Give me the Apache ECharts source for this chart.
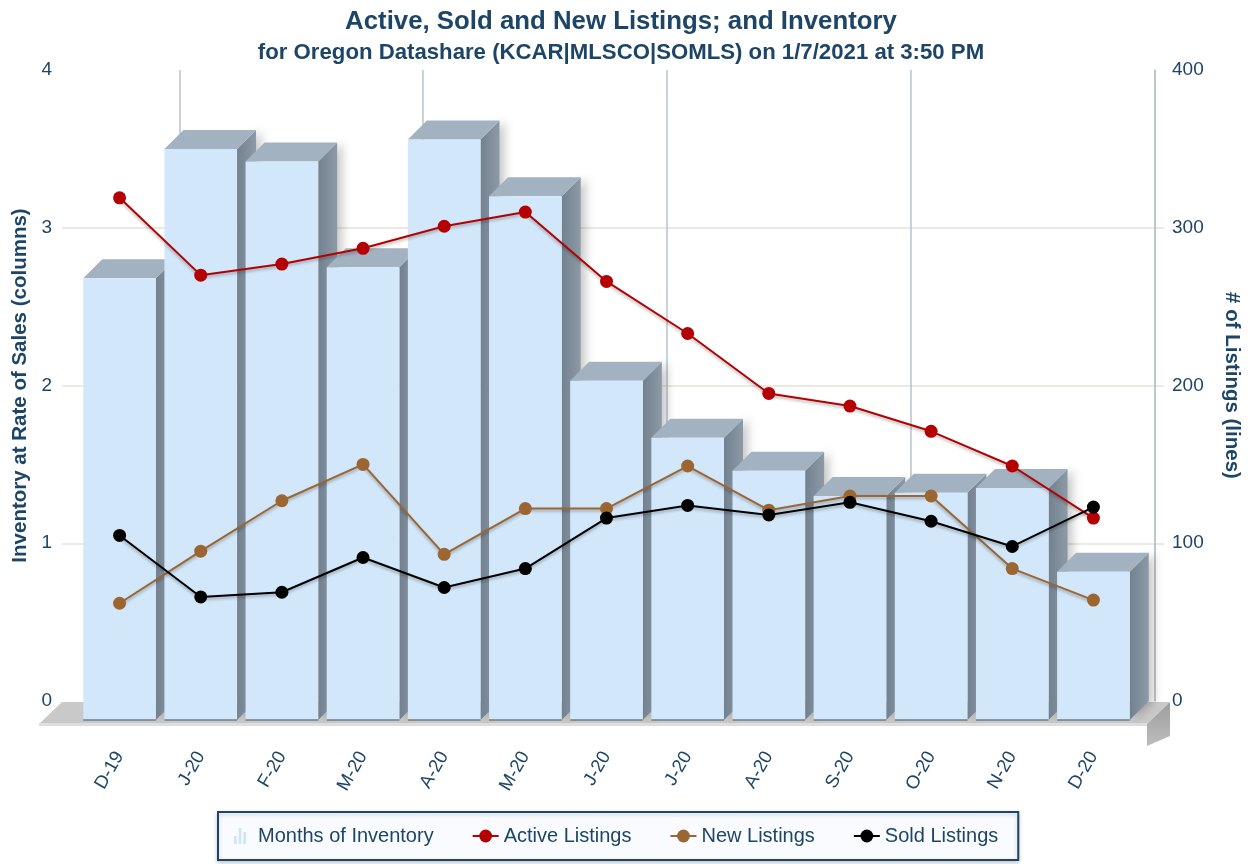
<!DOCTYPE html>
<html style="height: 100%">
<head>
<meta charset="utf-8">
</head>
<body style="height: 100%; margin: 0">
<div id="container" style="width: 1250px; height: 864px"></div>
<script type="text/javascript" src="https://cdn.jsdelivr.net/npm/echarts@6/dist/echarts.min.js"></script>
<script type="text/javascript">
var months = ['D-19', 'J-20', 'F-20', 'M-20', 'A-20', 'M-20', 'J-20', 'J-20', 'A-20', 'S-20', 'O-20', 'N-20', 'D-20'];
// months of inventory (left axis, columns)
var inventory = [2.80, 3.62, 3.54, 2.87, 3.68, 3.32, 2.15, 1.79, 1.58, 1.42, 1.44, 1.47, 0.94];
// listings (right axis, lines)
var active = [331, 282, 289, 299, 313, 322, 278, 245, 207, 199, 183, 161, 128];
var newListings = [74, 107, 139, 162, 105, 134, 134, 161, 133, 142, 142, 96, 76];
var sold = [117, 78, 81, 103, 84, 96, 128, 136, 130, 138, 126, 110, 135];
var leftTicks = [0, 4, 1];    // min, max, step
var rightTicks = [0, 400, 100];

var navy = '#1d4567';
var font = '"Liberation Sans", Arial, sans-serif';
var D = 19; // depth of the 3d effect

var dom = document.getElementById('container');
var myChart = echarts.init(dom);

var barData = inventory.map(function (v, i) { return [i, v]; });

function renderBar(params, api) {
	var i = api.value(0);
	var top = api.coord([i, api.value(1)]);
	var base = api.coord([i, 0]);
	var w = api.size([1, 0])[0] * 0.895;
	var x0 = top[0] - w / 2, x1 = top[0] + w / 2;
	var y0 = top[1], y1 = base[1];
	return {
		type: 'group',
		children: [
			{
				type: 'polygon',
				shape: { points: [[x1, y0], [x1 + D, y0 - D], [x1 + D, y1 - D], [x1, y1]] },
				style: {
					fill: new echarts.graphic.LinearGradient(0, 0, 1, 0, [
						{ offset: 0, color: '#728190' }, { offset: 1, color: '#8d9aa6' }
					]),
					shadowBlur: 10, shadowColor: 'rgba(0,0,0,0.22)', shadowOffsetX: 5
				}
			},
			{
				type: 'polygon',
				shape: { points: [[x0, y0], [x0 + D, y0 - D], [x1 + D, y0 - D], [x1, y0]] },
				style: { fill: '#a2b2c1' }
			},
			{
				type: 'rect',
				shape: { x: x0, y: y0, width: w, height: y1 - y0 },
				style: { fill: '#d2e7f9' }
			},
			{
				type: 'line',
				shape: { x1: x0, y1: y1, x2: x1, y2: y1 },
				style: { stroke: '#6d7e8b', lineWidth: 1.5 }
			}
		]
	};
}

function lineSeries(name, data, color) {
	return {
		name: name,
		type: 'line',
		xAxisIndex: 2,
		yAxisIndex: 4,
		data: data,
		symbol: 'circle',
		symbolSize: 13,
		z: 5,
		itemStyle: { color: color },
		lineStyle: {
			color: color, width: 2,
			shadowColor: 'rgba(0,0,0,0.3)', shadowBlur: 3, shadowOffsetY: 2
		},
		animation: false
	};
}

var barIcon = 'path://M0,12L4,12L4,24L0,24Z M7,0L11,0L11,24L7,24Z M14,6L18,6L18,24L14,24Z';

var option = {
	animation: false,
	textStyle: { fontFamily: font },
	title: {
		text: 'Active, Sold and New Listings; and Inventory',
		subtext: 'for Oregon Datashare (KCAR|MLSCO|SOMLS) on 1/7/2021 at 3:50 PM',
		left: 616,
		textAlign: 'center',
		top: 4,
		itemGap: 7,
		textStyle: { fontSize: 25.8, fontWeight: 'bold', color: navy, fontFamily: font },
		subtextStyle: { fontSize: 22.2, fontWeight: 'bold', color: navy, fontFamily: font }
	},
	legend: {
		top: 812,
		left: 218,
		padding: [14, 20, 14, 16],
		itemGap: 38,
		itemWidth: 26,
		itemHeight: 16,
		borderColor: navy,
		borderWidth: 2,
		backgroundColor: '#f9fbfe',
		shadowColor: 'rgba(0,0,0,0.2)',
		shadowBlur: 4,
		shadowOffsetY: 2,
		textStyle: { fontSize: 20, color: navy, fontFamily: font },
		data: [
			{ name: 'Months of Inventory', icon: barIcon, itemStyle: { color: '#cfe4f7' } },
			'Active Listings', 'New Listings', 'Sold Listings'
		]
	},
	grid: [
		{ left: 62, right: 80, top: 70, bottom: 163 },   // wall: labels and gridlines
		{ left: 98, right: 95, top: 70, bottom: 163 },   // back plane
		{ left: 79, right: 116, top: 89, bottom: 144 }   // front plane: marks
	],
	xAxis: [
		{ gridIndex: 0, type: 'category', data: months, show: false },
		{
			gridIndex: 1, type: 'category', data: months,
			axisLine: { show: false }, axisTick: { show: false }, axisLabel: { show: false },
			splitLine: {
				show: true,
				interval: function (i) { return i % 3 === 1; },
				lineStyle: { color: '#b7c3cc', width: 1.5 }
			}
		},
		{
			gridIndex: 2, type: 'category', data: months,
			axisLine: { show: false }, axisTick: { show: false },
			axisLabel: { rotate: 60, margin: 33, fontSize: 18.5, color: navy, fontFamily: font }
		}
	],
	yAxis: [
		{
			gridIndex: 0, type: 'value', position: 'left',
			min: leftTicks[0], max: leftTicks[1], interval: leftTicks[2],
			name: 'Inventory at Rate of Sales (columns)',
			nameLocation: 'middle', nameGap: 30,
			nameTextStyle: { fontSize: 20.5, fontWeight: 'bold', color: navy, fontFamily: font },
			axisLine: { show: false }, axisTick: { show: false },
			axisLabel: { fontSize: 19, color: navy, margin: 10, fontFamily: font },
			splitLine: {
				lineStyle: { color: ['transparent', '#e3e3d7', '#e3e3d7', '#e3e3d7', 'transparent'], width: 1.5 }
			}
		},
		{
			gridIndex: 0, type: 'value', position: 'right',
			min: rightTicks[0], max: rightTicks[1], interval: rightTicks[2],
			name: '# of Listings (lines)',
			nameLocation: 'middle', nameGap: 57, nameRotate: -90,
			nameTextStyle: { fontSize: 20.5, fontWeight: 'bold', color: navy, fontFamily: font },
			axisLine: { show: false }, axisTick: { show: false },
			axisLabel: { fontSize: 19, color: navy, margin: 8, fontFamily: font },
			splitLine: { show: false }
		},
		{
			gridIndex: 1, type: 'value', position: 'right', min: 0, max: 4,
			axisLine: { show: true, lineStyle: { color: '#b7c3cc', width: 1.5 } },
			axisTick: { show: false }, axisLabel: { show: false }, splitLine: { show: false }
		},
		{ gridIndex: 2, type: 'value', min: leftTicks[0], max: leftTicks[1], show: false },
		{ gridIndex: 2, type: 'value', min: rightTicks[0], max: rightTicks[1], show: false }
	],
	graphic: [
		{   // floor top
			type: 'polygon', z: 1, silent: true,
			shape: { points: [[62, 702], [1170, 702], [1147, 724], [39, 724]] },
			style: { fill: '#c9c9c9' }
		},
		{   // floor front edge
			type: 'rect', z: 1, silent: true,
			shape: { x: 39, y: 723, width: 1108, height: 3 },
			style: { fill: '#dedede' }
		},
		{   // floor right side
			type: 'polygon', z: 1, silent: true,
			shape: { points: [[1147, 724], [1170, 702], [1170, 736], [1147, 746]] },
			style: {
				fill: new echarts.graphic.LinearGradient(0, 0, 0, 1, [
					{ offset: 0, color: '#9d9d9d' }, { offset: 1, color: '#bdbdbd' }
				])
			}
		}
	],
	series: [
		{
			name: 'Months of Inventory',
			type: 'custom',
			xAxisIndex: 2,
			yAxisIndex: 3,
			data: barData,
			encode: { x: 0, y: 1 },
			renderItem: renderBar,
			itemStyle: { color: '#cfe4f7' },
			z: 3
		},
		lineSeries('Active Listings', active, '#b40000'),
		lineSeries('New Listings', newListings, '#9c6633'),
		lineSeries('Sold Listings', sold, '#000000')
	]
};
myChart.setOption(option);
</script>
</body>
</html>
